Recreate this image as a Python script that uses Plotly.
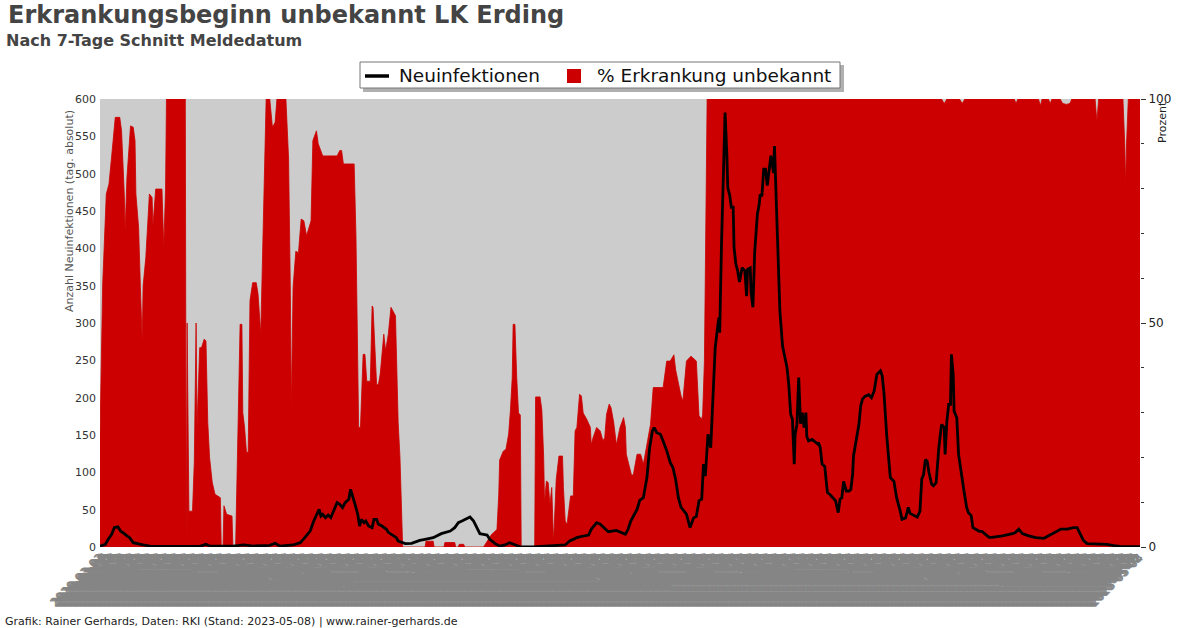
import pandas as pd
import plotly.graph_objects as go

START = "2020-03-02"
END = "2023-05-04"

# ---- tick labels (one per day, as in the original) ----
tick_dates = pd.date_range(START, END, freq="D")
tick_labels = [d.strftime("%Y-%m-%d") for d in tick_dates]

# ---- % Erkrankung unbekannt (right axis), days since START ----
pct_days = [0, 3, 7, 10, 13, 17, 22, 24, 27, 28, 30, 34, 37, 39, 40, 43, 45, 47, 48, 51, 55, 58, 59, 62, 69, 71, 73, 74, 95,
            96, 97, 99, 103, 105, 107, 108, 111, 113, 116, 118, 120, 122, 125, 128, 134, 135, 137, 138, 141, 147, 148, 151,
            156, 158, 159, 161, 163, 165, 167, 170, 174, 176, 179, 182, 185, 189, 192, 195, 197, 207, 210, 212, 213, 215,
            218, 221, 224, 227, 230, 235, 237, 241, 243, 248, 264, 267, 269, 271, 283, 285, 288, 290, 291, 293, 295, 297,
            301, 303, 304, 306, 308, 310, 312, 316, 318, 321, 324, 329, 331, 332, 334, 337, 362, 363, 371, 372, 383, 384,
            395, 396, 399, 400, 405, 406, 427, 431, 436, 442, 444, 445, 449, 452, 454, 455, 457, 459, 460, 462, 464, 466,
            468, 469, 484, 485, 490, 492, 494, 495, 497, 499, 501, 503, 505, 508, 511, 515, 516, 518, 520, 524, 527, 529,
            531, 534, 536, 538, 542, 546, 547, 549, 553, 557, 560, 562, 564, 567, 569, 572, 575, 579, 583, 585, 586, 592,
            594, 598, 602, 605, 607, 611, 613, 616, 627, 631, 635, 639, 641, 647, 649, 653, 658, 664, 665, 667, 670, 671,
            673, 674, 676, 937, 940, 943, 957, 960, 963, 1018, 1020, 1022, 1045, 1047, 1049, 1056, 1058, 1060, 1069, 1072,
            1076, 1080, 1082, 1108, 1110, 1112, 1139, 1141, 1142, 1143, 1145, 1158]
pct_vals = [25, 58.7, 78.8, 81, 87.3, 95.9, 95.9, 92.9, 78.8, 70.6, 82.5, 94, 93.7, 90.7, 78.8, 71.3, 57.9, 46, 58.3, 64.6,
            78.8, 78, 71.7, 79.9, 79.9, 66.9, 79.9, 100, 100,
            0, 50, 8, 8, 19, 50, 26.7, 44.5, 44.5, 46.4, 46, 27.8, 20, 14.4, 11.8, 11, 0, 0, 9.2, 7.3, 6.9, 0, 0,
            49.7, 49.7, 30, 26.7, 21.4, 21, 55, 59, 59, 56.4, 47.5, 75.8, 100, 100, 93.7, 94.8, 100, 100, 86.6, 56.4, 31, 58,
            66, 65.7, 73.2, 72.8, 69.5, 72.8, 90.7, 92.9, 90, 87.3, 87.3, 88.5, 88.5, 85.5, 85.5, 69.5, 26.7, 26.7, 33, 43, 43, 37,
            37, 53.8, 53.5, 44.5, 36.3, 36.3, 38.6, 47.5, 43.8, 47.5, 53.5, 51.6, 37.8, 27.8, 20, 0, 0, 1.3, 1.3, 0, 0, 1,
            1, 0, 0, 0.6, 0.6, 0, 0, 1.3, 2.8, 3.9, 11.8, 19.4, 21.4, 21.8, 23.7, 25.2, 30.5, 37.8, 49.7, 49.7, 37.8, 29.9,
            29.5, 0, 0, 33.5, 33.5, 30.5, 20, 9.9, 14.7, 14.4, 9.5, 13.3, 1, 15.1, 20.3, 20.3, 13.3, 5.8, 5, 11.4, 11.4, 25.9,
            26.7, 34.1, 33.7, 29.9, 28.5, 26.7, 22.8, 24.4, 26.7, 25.9, 23.7, 24.4, 29.6, 31.9, 31.1, 27.8, 22.8, 26.7, 28.9, 26.7, 20.7, 15.9,
            16.3, 20.7, 20.7, 18.5, 20.7, 25.5, 27.4, 35.6, 35.6, 41.5, 41.5, 42.9, 39.5, 33.7, 32.6, 41.5, 42.6, 41.5, 37.8, 29.3, 28.5, 29.6,
            41.5, 64, 100, 100, 99, 100, 100, 99, 100, 100, 99, 100, 100, 98.5, 100, 100, 99, 100, 100, 99,
            98.8, 99, 100, 100, 95, 100, 100, 90, 81, 90, 100, 100]

# ---- Neuinfektionen (left axis), days since START ----
case_days = [0, 6, 9, 13, 16, 20, 23, 26, 30, 33, 37, 41, 48, 56, 74, 97, 111, 118, 122, 148, 160, 171, 189, 195, 200, 215,
             223, 228, 234, 238, 241, 244, 246, 248, 251, 254, 257, 260, 262, 264, 267, 270, 273, 277, 279, 282, 284, 287,
             289, 291, 294, 296, 299, 303, 305, 308, 310, 314, 319, 321, 327, 330, 332, 336, 340, 347, 351, 356, 362, 371,
             380, 390, 395, 399, 403, 408, 412, 416, 419, 423, 427, 431, 434, 440, 445, 451, 456, 462, 468, 482, 501, 518,
             523, 531, 538, 544, 547, 553, 557, 561, 566, 575, 581, 585, 588, 591, 594, 598, 601, 605, 609, 612, 615, 617,
             620, 624, 627, 631, 635, 638, 641, 644, 647, 650, 653, 657, 661, 664, 667, 670, 672, 674, 677, 680, 683, 685,
             689, 690, 692, 694, 695, 696, 698, 699, 701, 703, 705, 706, 708, 710, 712, 715, 718, 720, 721, 724, 725, 727,
             729, 732, 734, 735, 737, 739, 741, 743, 745, 747, 748, 750, 751, 753, 755, 757, 760, 763, 765, 767, 769, 771,
             773, 774, 776, 778, 780, 782, 784, 786, 787, 789, 793, 797, 799, 800, 802, 804, 807, 809, 810, 813, 816, 819,
             822, 824, 826, 828, 831, 834, 836, 838, 839, 842, 845, 847, 849, 852, 856, 859, 862, 865, 869, 871, 873, 876,
             878, 880, 884, 887, 891, 893, 897, 900, 902, 906, 910, 913, 915, 917, 919, 921, 923, 926, 928, 931, 934, 937,
             940, 941, 943, 945, 947, 948, 950, 951, 954, 956, 959, 962, 965, 967, 970, 972, 979, 982, 986, 990, 993, 1005,
             1016, 1019, 1023, 1027, 1034, 1042, 1051, 1058, 1062, 1070, 1077, 1084, 1088, 1090, 1092, 1095, 1099, 1114,
             1121, 1129, 1136, 1158]
case_vals = [1, 3.6, 10, 17, 26, 27, 21, 19, 15, 12.5, 5.8, 4.5, 2.7, 1.3, 0.9, 0.5, 0.9, 3.6, 1.3, 1.3, 2.7, 1.3, 2.2, 5, 1.3, 2.7,
             5.8, 12.5, 21.4, 34.8, 43.8, 50.4, 41.5, 43.8, 39.3, 42.9, 39.3, 48.2, 54.9, 59.4, 57.1, 52.7, 59.4, 63.8, 77.2, 66, 57.1, 43.8,
             28.1, 37, 32.6, 34.8, 28.1, 25.9, 37, 37, 30.4, 28.1, 23.7, 19.6, 14.7, 12.5, 8, 5.8, 4.5, 4.9, 7.1, 8.9, 10.3, 12.5,
             17.9, 21.4, 25.9, 32.6, 34.8, 38.4, 40.2, 34.8, 28.1, 17.9, 17, 16, 10.3, 4.5, 1.3, 2.7, 5.8, 2.7, 0.3, 0.3, 1.3, 2.7,
             8, 12.5, 14.7, 16, 23.7, 32.6, 30.4, 25.9, 20.5, 22.3, 19.2, 17, 23.7, 34.8, 41.5, 50.4, 62.5, 66, 93, 133, 155, 160,
             153, 151, 142, 129, 113, 106, 90, 66, 53, 48, 44, 26, 39, 41, 62, 64, 111, 95, 151, 133, 204, 267,
             307, 287, 405, 486, 535, 582, 525, 481, 472, 455, 455, 401, 379, 370, 355, 374, 370, 336, 372, 374, 340, 321,
             396, 446, 459, 472, 470, 506, 506, 484, 504, 524, 517, 501, 537, 472, 388, 317, 269, 249, 240, 216, 178, 171,
             111, 151, 164, 227, 165, 180, 160, 180, 148, 142, 144, 140, 138, 140, 133, 111, 108, 84, 73, 70, 66, 62,
             46, 64, 66, 88, 75, 75, 77, 97, 122, 146, 164, 189, 198, 202, 204, 200, 209, 231, 236, 229, 205, 149,
             115, 93, 88, 66, 48, 37, 39, 53, 45, 42, 40, 48, 91, 97, 117, 115, 100, 84, 82, 86, 133, 164,
             160, 124, 169, 191, 191, 258, 231, 182, 173, 124, 97, 75, 53, 46, 42, 26, 21, 21, 17, 13, 13, 15,
             18, 19, 24, 18, 15, 12.5, 11.6, 16, 19, 24, 24, 26, 26, 21, 15, 9, 4.5, 4.5,
             3.6, 1.8, 0.9, 0.5]

LEGEND_LINE = "Neuinfektionen"
LEGEND_AREA = "% Erkrankung unbekannt"

start = pd.Timestamp(START)
pct_x = [start + pd.Timedelta(days=d) for d in pct_days]
case_x = [start + pd.Timedelta(days=d) for d in case_days]

# plot area in pixels: x 100..1140, y 99..547
L, R, T, B = 100, 1140, 99, 547
def px(xp):
    return (xp - L) / (R - L)
def py(yp):
    return (B - yp) / (B - T)

RED = "#cc0000"
FONT = "DejaVu Sans"

fig = go.Figure()
fig.add_trace(go.Scatter(
    x=pct_x, y=pct_vals, name=LEGEND_AREA, mode="lines",
    line=dict(color=RED, width=0.8), fill="tozeroy", fillcolor=RED,
    yaxis="y", showlegend=False))
fig.add_trace(go.Scatter(
    x=case_x, y=case_vals, name=LEGEND_LINE, mode="lines",
    line=dict(color="black", width=2.8), yaxis="y2", showlegend=False))

fig.update_layout(
    width=1200, height=628,
    margin=dict(l=L, r=1200 - R, t=T, b=628 - B, autoexpand=False),
    paper_bgcolor="white", plot_bgcolor="#cccccc",
    font=dict(family=FONT, color="#444"),
    showlegend=False,
    xaxis=dict(type="date", range=[START, END], tickmode="array", tickvals=tick_dates,
               ticktext=tick_labels, tickangle=-45, tickfont=dict(size=12, color="#858585"),
               showgrid=False, zeroline=False, ticks="", showline=False, automargin=False),
    yaxis=dict(side="right", range=[0, 100], tick0=0, dtick=50, ticks="outside", ticklen=5,
               tickcolor="#333", minor=dict(dtick=10, ticks="outside", ticklen=3, tickcolor="#333"),
               showgrid=False, zeroline=False, tickfont=dict(size=12, color="#222"), automargin=False),
    yaxis2=dict(overlaying="y", side="left", range=[0, 600], tick0=0, dtick=50, ticks="",
                ticklabelstandoff=3,
                showgrid=False, zeroline=False, tickfont=dict(size=11, color="#333"), automargin=False),
)

# legend box (drawn by hand to match the original's compact box with shadow)
shapes = [
    dict(type="rect", x0=px(363), x1=px(844), y0=py(65), y1=py(92), fillcolor="#b0b0b0", line=dict(width=0)),
    dict(type="rect", x0=px(360), x1=px(840), y0=py(62), y1=py(88), fillcolor="white", line=dict(color="#777", width=1)),
    dict(type="line", x0=px(365), x1=px(389), y0=py(76), y1=py(76), line=dict(color="black", width=3.5)),
    dict(type="rect", x0=px(567), x1=px(581), y0=py(69), y1=py(83), fillcolor=RED, line=dict(width=0)),
]
for s in shapes:
    s.update(xref="paper", yref="paper", layer="above")
fig.update_layout(shapes=shapes)

annotations = [
    dict(text="<b>Erkrankungsbeginn unbekannt LK Erding</b>", x=px(6), y=py(15), xanchor="left",
         yanchor="middle", font=dict(size=24, color="#444", family=FONT)),
    dict(text="<b>Nach 7-Tage Schnitt Meldedatum</b>", x=px(4), y=py(41), xanchor="left",
         yanchor="middle", font=dict(size=16, color="#444", family=FONT)),
    dict(text=LEGEND_LINE, x=px(397), y=py(76), xanchor="left", yanchor="middle",
         font=dict(size=18.5, color="#111", family=FONT)),
    dict(text=LEGEND_AREA, x=px(595), y=py(76), xanchor="left", yanchor="middle",
         font=dict(size=18.5, color="#111", family=FONT)),
    dict(text="Anzahl Neuinfektionen (tag. absolut)", textangle=-90, x=px(69), y=py(108),
         xanchor="center", yanchor="top", font=dict(size=11, color="#555", family=FONT)),
    dict(text="Prozent", textangle=-90, x=px(1162), y=py(99), xanchor="center", yanchor="top",
         font=dict(size=11, color="#222", family=FONT)),
    dict(text="Grafik: Rainer Gerhards, Daten: RKI (Stand: 2023-05-08) | www.rainer-gerhards.de",
         x=px(3), y=py(621), xanchor="left", yanchor="middle", font=dict(size=11, color="#222", family=FONT)),
]
for a in annotations:
    a.update(xref="paper", yref="paper", showarrow=False)
fig.update_layout(annotations=annotations)

fig.write_html("out.html", config={"displayModeBar": False},
               post_script="document.body.style.margin='0';")
